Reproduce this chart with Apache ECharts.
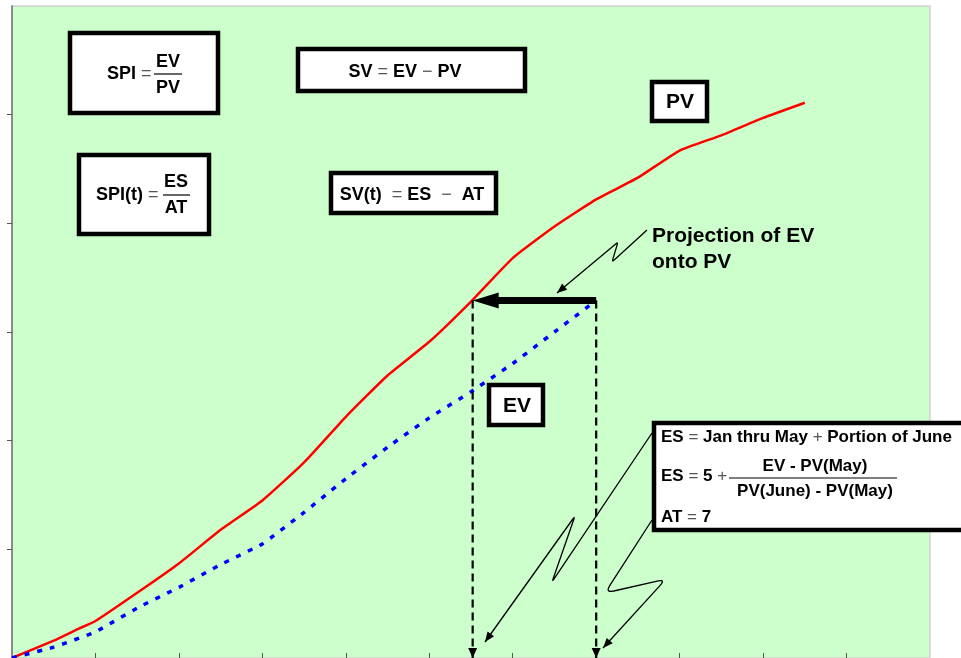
<!DOCTYPE html>
<html>
<head>
<meta charset="utf-8">
<style>
  html, body { margin: 0; padding: 0; background: #fff; }
  #chart { width: 961px; height: 658px; }
</style>
<script src="https://cdn.jsdelivr.net/npm/echarts@6/dist/echarts.min.js"></script>
</head>
<body>
<div id="chart"></div>
<script>
// time in months, cumulative value in chart units
const pvMonths = [0, 0.5, 0.8, 1, 1.5, 2, 2.5, 3, 3.5, 4, 4.5, 5, 5.5, 6, 6.5, 7, 7.5, 8, 8.5, 9, 9.5];
const pvValues = [0, 0.16, 0.27, 0.34, 0.60, 0.87, 1.18, 1.45, 1.80, 2.22, 2.60, 2.91, 3.28, 3.68, 3.97, 4.22, 4.42, 4.67, 4.81, 4.97, 5.11];
const evMonths = [0, 0.5, 1, 1.5, 2, 2.5, 3, 3.5, 4, 4.5, 5, 5.5, 6, 6.5, 7];
const evValues = [0, 0.10, 0.24, 0.46, 0.65, 0.86, 1.05, 1.34, 1.65, 1.94, 2.21, 2.45, 2.71, 3.00, 3.29];
const esMonth = 5.52;
const atMonth = 7;
const monthMax = 11;
const valueMax = 6;
const xTicks = [1, 2, 3, 4, 5, 6, 7, 8, 9, 10];
const yTicks = [0, 1, 2, 3, 4, 5];

const FONT = '"Liberation Sans", Arial, Helvetica, sans-serif';
const projValue = evValues[evValues.length - 1];

const chart = echarts.init(document.getElementById('chart'));

function pairs(xs, ys) {
  return xs.map((x, i) => [x, ys[i]]);
}

chart.setOption({
  animation: false,
  grid: {
    left: 12, right: 31, top: 6, bottom: 0,
    show: true,
    backgroundColor: '#ccffcc',
    borderColor: '#d2d2d2',
    borderWidth: 1.5
  },
  xAxis: {
    type: 'value', min: 0, max: monthMax, interval: 1,
    axisLine: { show: false },
    axisTick: { show: true, inside: true, length: 5, customValues: xTicks, lineStyle: { color: '#555', width: 1 } },
    axisLabel: { show: false },
    splitLine: { show: false }
  },
  yAxis: {
    type: 'value', min: 0, max: valueMax, interval: 1,
    axisLine: { show: true, lineStyle: { color: '#707070', width: 1.5 } },
    axisTick: { show: true, inside: false, length: 5, customValues: yTicks, lineStyle: { color: '#555', width: 1 } },
    axisLabel: { show: false },
    splitLine: { show: false }
  },
  series: [
    {
      name: 'PV', type: 'line', data: pairs(pvMonths, pvValues),
      symbol: 'none', silent: true, z: 3,
      smooth: 0.15,
      lineStyle: { color: '#ff0000', width: 2.5 }
    },
    {
      name: 'EV', type: 'line', data: pairs(evMonths, evValues),
      symbol: 'none', silent: true, z: 3,
      smooth: 0.1,
      lineStyle: { color: '#0000ff', width: 3.5, type: [5, 8] }
    },
    {
      name: 'ES', type: 'line', data: [[esMonth, projValue], [esMonth, 0]],
      symbol: 'none', silent: true, z: 4,
      lineStyle: { color: '#000', width: 2.2, type: [8, 5] }
    },
    {
      name: 'AT', type: 'line', data: [[atMonth, projValue], [atMonth, 0]],
      symbol: 'none', silent: true, z: 4,
      lineStyle: { color: '#000', width: 2.2, type: [8, 5] }
    }
  ]
});

// ---- annotations ----
function px(p) {
  return chart.convertToPixel({ gridIndex: 0 }, p);
}

function rich(size) {
  return {
    b: { fontSize: size, fontWeight: 'bold', fontFamily: FONT, fill: '#000' },
    o: { fontSize: size, fontWeight: 'normal', fontFamily: FONT, fill: '#555' }
  };
}

function box(x, y, w, h) {
  return {
    type: 'rect', z: 20,
    shape: { x: x, y: y, width: w, height: h },
    style: { fill: '#fff', stroke: '#000', lineWidth: 4.5 }
  };
}

function label(x, y, text, size, align) {
  return {
    type: 'text', z: 21, x: x, y: y,
    style: {
      text: text,
      font: 'bold ' + size + 'px ' + FONT,
      fill: '#000',
      rich: rich(size),
      align: align || 'center', verticalAlign: 'middle',
      textAlign: align || 'center', textVerticalAlign: 'middle'
    }
  };
}

function bar(x1, x2, y) {
  return {
    type: 'line', z: 21,
    shape: { x1: x1, y1: y, x2: x2, y2: y },
    style: { stroke: '#000', lineWidth: 1.2 }
  };
}

function head(tip, from, len, half) {
  const dx = tip[0] - from[0], dy = tip[1] - from[1];
  const d = Math.sqrt(dx * dx + dy * dy);
  const ux = dx / d, uy = dy / d;
  const bx = tip[0] - ux * len, by = tip[1] - uy * len;
  return {
    type: 'polygon', z: 22,
    shape: { points: [tip, [bx - uy * half, by + ux * half], [bx + uy * half, by - ux * half]] },
    style: { fill: '#000' }
  };
}

// polyline with rounded corners
function rounded(points, r) {
  const out = [points[0]];
  for (let i = 1; i < points.length - 1; i++) {
    const a = points[i - 1], p = points[i], b = points[i + 1];
    const la = Math.hypot(p[0] - a[0], p[1] - a[1]);
    const lb = Math.hypot(b[0] - p[0], b[1] - p[1]);
    const s = [p[0] - (p[0] - a[0]) / la * r, p[1] - (p[1] - a[1]) / la * r];
    const e = [p[0] + (b[0] - p[0]) / lb * r, p[1] + (b[1] - p[1]) / lb * r];
    for (let k = 0; k <= 6; k++) {
      const t = k / 6;
      out.push([
        (1 - t) * (1 - t) * s[0] + 2 * (1 - t) * t * p[0] + t * t * e[0],
        (1 - t) * (1 - t) * s[1] + 2 * (1 - t) * t * p[1] + t * t * e[1]
      ]);
    }
  }
  out.push(points[points.length - 1]);
  return out;
}

function callout(points, r) {
  const pts = rounded(points, r);
  return [
    {
      type: 'polyline', z: 19,
      shape: { points: pts },
      style: { stroke: '#000', lineWidth: 1.3, fill: null }
    },
    head(points[points.length - 1], points[points.length - 2], 10, 4)
  ];
}

const esTop = px([esMonth, projValue]);
const esBot = px([esMonth, 0]);
const atTop = px([atMonth, projValue]);
const atBot = px([atMonth, 0]);

const graphics = [].concat(
  // dashed drop arrows
  [head(esBot, esTop, 10, 4.5), head(atBot, atTop, 10, 4.5)],
  // projection of EV onto PV
  [
    {
      type: 'rect', z: 22,
      shape: { x: esTop[0] + 24, y: esTop[1] - 3.5, width: atTop[0] - esTop[0] - 24, height: 7 },
      style: { fill: '#000' }
    },
    head(esTop, atTop, 26, 8)
  ],
  // callout arrows
  callout([[647, 230], [612, 262], [618, 242], [557, 293]], 3),
  callout([[652, 433], [552, 582], [575, 516], [485, 642]], 4),
  callout([[652, 520], [605, 593], [666, 579], [603, 648]], 9),
  // formula boxes
  [
    box(70, 33, 148, 80),
    label(107, 74, '{b|SPI}{o| =}', 18, 'left'),
    bar(154, 182, 74),
    label(168, 62, 'EV', 18),
    label(168, 88, 'PV', 18),

    box(298, 49, 227, 42),
    label(405, 72, '{b|SV} {o|=} {b|EV} {o|−} {b|PV}', 18),

    box(79, 155, 130, 79),
    label(96, 195, '{b|SPI(t)}{o| =}', 18, 'left'),
    bar(163, 190, 195),
    label(176, 182, 'ES', 18),
    label(176, 208, 'AT', 18),

    box(331, 173, 165, 40),
    label(412, 195, '{b|SV(t)}  {o|=} {b|ES}  {o|−}  {b|AT}', 18),

    box(652, 82, 55, 39),
    label(680, 102, 'PV', 21),

    box(489, 385, 54, 40),
    label(517, 406, 'EV', 21),

    label(652, 236, 'Projection of EV', 21, 'left'),
    label(652, 262, 'onto PV', 21, 'left'),

    box(654, 423, 340, 107),
    label(661, 437, '{b|ES} {o|=} {b|Jan thru May} {o|+} {b|Portion of June}', 17, 'left'),
    label(661, 476, '{b|ES} {o|=} {b|5} {o|+}', 17, 'left'),
    label(815, 466, 'EV - PV(May)', 17),
    bar(729, 897, 478),
    label(815, 491, 'PV(June) - PV(May)', 17),
    label(661, 517, '{b|AT} {o|=} {b|7}', 17, 'left')
  ]
);

chart.setOption({ graphic: { elements: graphics } });

window.addEventListener('resize', function() { chart.resize(); });
</script>
</body>
</html>
